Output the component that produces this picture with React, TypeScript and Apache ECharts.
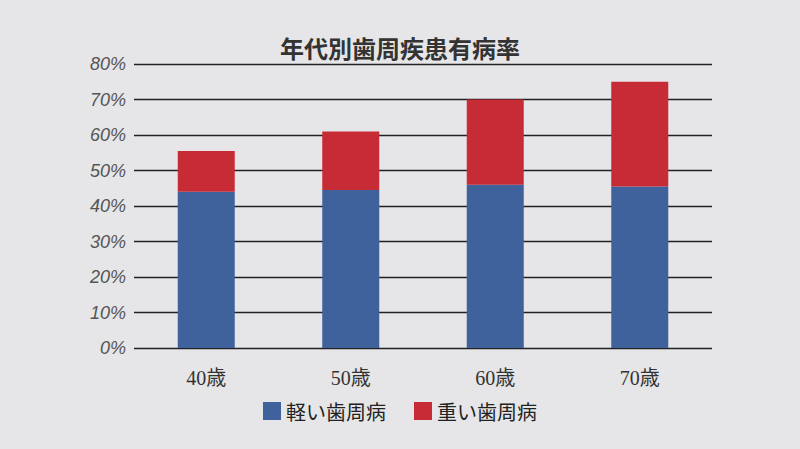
import { useEffect, useRef } from 'react';
import * as echarts from 'echarts';

const categories = ['40歳', '50歳', '60歳', '70歳'];
const mildValues = [44, 44.5, 46, 45.5];
const severeValues = [11.5, 16.5, 24, 29.5];
const seriesNames = ['軽い歯周病', '重い歯周病'];

export default function App() {
  const chartRef = useRef<HTMLDivElement>(null);

  useEffect(() => {
    if (!chartRef.current) return;
    const chart = echarts.init(chartRef.current, undefined, { renderer: 'svg' });

    const option: echarts.EChartsOption = {
      animation: false,
      backgroundColor: '#e6e6e8',
      title: {
        text: '年代別歯周疾患有病率',
        left: 'center',
        top: 30,
        textStyle: {
          fontSize: 24,
          fontWeight: 'bold',
          color: '#333',
          fontFamily: '"Noto Sans CJK JP", sans-serif'
        }
      },
      legend: {
        data: seriesNames,
        left: 'center',
        top: 396,
        itemWidth: 18,
        itemHeight: 18,
        itemGap: 28,
        icon: 'rect',
        textStyle: {
          fontSize: 20,
          color: '#222',
          fontFamily: '"Noto Sans CJK JP", serif'
        }
      },
      grid: {
        left: 134,
        right: 88,
        top: 64,
        bottom: 101
      },
      xAxis: {
        type: 'category',
        data: categories,
        axisLine: { show: false },
        axisTick: { show: false },
        axisLabel: {
          fontSize: 20,
          color: '#333',
          margin: 20,
          fontFamily: '"Liberation Serif", "Noto Sans CJK JP", serif'
        }
      },
      yAxis: {
        type: 'value',
        min: 0,
        max: 80,
        interval: 10,
        axisLine: { show: false },
        axisTick: { show: false },
        axisLabel: {
          formatter: '{value}%',
          fontSize: 18,
          fontStyle: 'italic',
          color: '#555',
          margin: 8,
          fontFamily: '"Liberation Sans", sans-serif'
        },
        splitLine: { lineStyle: { color: '#222', width: 1.3 } }
      },
      series: [
        {
          name: seriesNames[0],
          type: 'bar',
          stack: 'total',
          barWidth: 57,
          data: mildValues,
          itemStyle: { color: '#3f619c' }
        },
        {
          name: seriesNames[1],
          type: 'bar',
          stack: 'total',
          barWidth: 57,
          data: severeValues,
          itemStyle: { color: '#c62b36' }
        }
      ]
    };

    chart.setOption(option);
    return () => chart.dispose();
  }, []);

  return (
    <div
      ref={chartRef}
      style={{ position: 'fixed', left: 0, top: 0, width: 800, height: 449 }}
    />
  );
}
